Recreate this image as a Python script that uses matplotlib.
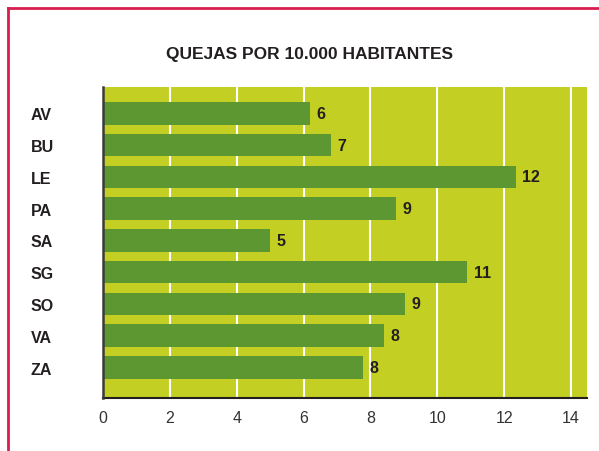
import matplotlib.pyplot as plt
from matplotlib.lines import Line2D

plt.rcParams['font.family'] = ['Liberation Sans', 'DejaVu Sans']

provincias = ["AV", "BU", "LE", "PA", "SA", "SG", "SO", "VA", "ZA"]
quejas = [6.19, 6.82, 12.35, 8.76, 5.0, 10.89, 9.03, 8.41, 7.78]
etiquetas = ["6", "7", "12", "9", "5", "11", "9", "8", "8"]
xticks = [0, 2, 4, 6, 8, 10, 12, 14]

fig = plt.figure(figsize=(5.99, 4.52), dpi=100)
ax = fig.add_axes([103 / 599, 1 - 399 / 452, 484 / 599, 311 / 452])
ax.set_facecolor("#c3cf23")

pos = list(range(len(provincias)))
ax.barh(pos, quejas, height=0.71, color="#5c9732", zorder=3)

for y, v, t in zip(pos, quejas, etiquetas):
    ax.text(v + 0.2, y, t, va="center", ha="left", fontsize=11.5,
            fontweight="bold", color="#231f20", zorder=4)

ax.set_xlim(0, 14.48)
ax.set_ylim(len(provincias) - 1 + 0.96, -0.83)
ax.set_xticks(xticks)
ax.set_xticklabels([str(t) for t in xticks], fontsize=11.5, color="#333333")
ax.set_yticks(pos)
ax.set_yticklabels(provincias, fontsize=11.5, fontweight="bold",
                   color="#231f20", ha="left")
ax.tick_params(axis="y", length=0, pad=52)
ax.tick_params(axis="x", length=0, pad=9)
ax.grid(axis="x", color="white", linewidth=1.5, zorder=1)
ax.set_axisbelow(True)

for s in ["top", "right"]:
    ax.spines[s].set_visible(False)
ax.spines["left"].set_color("#3a3a3a")
ax.spines["left"].set_linewidth(1.8)
ax.spines["bottom"].set_color("#231f20")
ax.spines["bottom"].set_linewidth(1.5)
ax.spines["left"].set_zorder(5)

fig.text(310 / 599, 1 - 54 / 452, "QUEJAS POR 10.000 HABITANTES",
         ha="center", va="center", fontsize=12.5, fontweight="bold",
         color="#231f20")

# marco rojo (solo izquierda y arriba visibles)
bx = 7.5 / 599
by = 1 - 9 / 452
fig.add_artist(Line2D([bx, bx], [0, by], transform=fig.transFigure,
                      color="#d81e50", linewidth=2))
fig.add_artist(Line2D([bx, 1], [by, by], transform=fig.transFigure,
                      color="#d81e50", linewidth=2))

fig.savefig("out.png", dpi=100)
